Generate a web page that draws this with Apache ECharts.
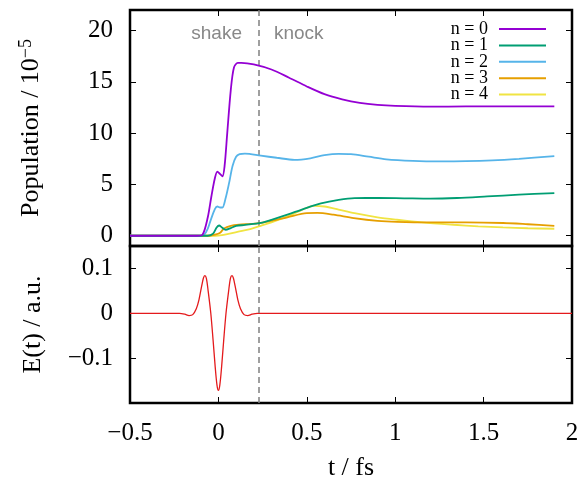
<!DOCTYPE html>
<html>
<head>
<meta charset="utf-8">
<script src="https://cdn.jsdelivr.net/npm/echarts@6/dist/echarts.min.js"></script>
<style>
  html, body { margin: 0; padding: 0; background: #fff; }
  #chart { width: 579px; height: 479px; }
</style>
</head>
<body>
<div id="chart"></div>
<script>
// population data, [t (fs), population / 1e-5]
const n0 = [[-0.5,0],[-0.12,0],[-0.09,0.1],[-0.06,1.8],[-0.04,3.8],[-0.02,5.6],[-0.006,6.25],[0.01,6.0],[0.023,5.8],[0.035,6.8],[0.05,10.0],[0.07,14.2],[0.088,16.4],[0.11,16.85],[0.13,16.85],[0.2,16.7],[0.3,16.2],[0.4,15.4],[0.5,14.55],[0.6,13.8],[0.7,13.3],[0.8,12.95],[0.9,12.75],[1.0,12.65],[1.2,12.58],[1.4,12.6],[1.6,12.6],[1.9,12.6]];
const n1 = [[-0.5,0],[-0.06,0],[-0.03,0.2],[-0.01,0.8],[0.004,1.0],[0.02,0.8],[0.041,0.58],[0.07,0.75],[0.1,0.95],[0.15,1.05],[0.24,1.25],[0.3,1.55],[0.39,2.05],[0.48,2.6],[0.58,3.15],[0.68,3.5],[0.77,3.67],[0.9,3.68],[1.05,3.65],[1.2,3.62],[1.35,3.68],[1.52,3.83],[1.7,4.0],[1.9,4.16]];
const n2 = [[-0.5,0],[-0.1,0],[-0.08,0.1],[-0.06,0.7],[-0.044,1.5],[-0.02,2.6],[-0.006,2.85],[0.01,2.75],[0.023,2.75],[0.04,3.6],[0.06,5.1],[0.08,6.8],[0.1,7.7],[0.12,7.95],[0.15,8.0],[0.24,7.8],[0.33,7.6],[0.43,7.4],[0.52,7.55],[0.6,7.85],[0.68,7.98],[0.75,7.95],[0.85,7.7],[0.95,7.45],[1.1,7.3],[1.25,7.25],[1.4,7.27],[1.55,7.35],[1.7,7.5],[1.9,7.75]];
const n3 = [[-0.5,0],[-0.05,0],[-0.02,0.1],[0.01,0.3],[0.032,0.7],[0.07,0.95],[0.117,1.07],[0.18,1.15],[0.24,1.25],[0.3,1.45],[0.39,1.8],[0.5,2.2],[0.56,2.22],[0.65,2.05],[0.766,1.72],[0.9,1.45],[1.01,1.35],[1.2,1.3],[1.4,1.3],[1.61,1.24],[1.75,1.12],[1.9,0.97]];
const n4 = [[-0.5,0],[-0.02,0],[0.02,0.05],[0.05,0.15],[0.09,0.3],[0.126,0.45],[0.18,0.65],[0.24,0.97],[0.3,1.3],[0.39,1.88],[0.47,2.5],[0.54,2.92],[0.6,2.85],[0.68,2.55],[0.77,2.2],[0.9,1.8],[1.01,1.56],[1.15,1.3],[1.33,1.07],[1.47,0.92],[1.61,0.81],[1.75,0.73],[1.9,0.68]];
// laser field, [t (fs), E (a.u.)]
const field = [[-0.5,0],[-0.22,0],[-0.19,-0.002],[-0.166,-0.005],[-0.145,-0.003],[-0.125,0.01],[-0.11,0.03],[-0.095,0.06],[-0.085,0.078],[-0.077,0.084],[-0.068,0.078],[-0.058,0.05],[-0.043,0],[-0.03,-0.06],[-0.018,-0.12],[-0.008,-0.16],[0,-0.172],[0.008,-0.16],[0.018,-0.12],[0.03,-0.06],[0.043,0],[0.058,0.05],[0.068,0.078],[0.077,0.084],[0.085,0.078],[0.095,0.06],[0.11,0.03],[0.125,0.01],[0.145,-0.003],[0.166,-0.005],[0.19,-0.002],[0.22,0],[2,0]];

const names = ['n = 0', 'n = 1', 'n = 2', 'n = 3', 'n = 4'];
const colors = ['#9400d3', '#009e73', '#56b4e9', '#e69f00', '#f0e442'];
const popTicks = [0, 5, 10, 15, 20];
const fieldTicks = [-0.1, 0, 0.1];
const tSplit = 0.235;   // dashed line between shake and knock

const serif = 'Liberation Serif';
const minus = v => String(v).replace('-', '\u2212');

function xAx(grid, pos, labels) {
    return {
        type: 'value', gridIndex: grid, position: pos,
        min: -0.5, max: 2, interval: 0.5,
        axisLine: {show: false, onZero: false},
        axisTick: {show: true, inside: true, length: 6, lineStyle: {color: '#000', width: 1}},
        axisLabel: {show: labels, color: '#000', fontFamily: serif, fontSize: 25, margin: 18, formatter: minus},
        splitLine: {show: false}
    };
}
function yAx(grid, pos, min, max, ticks, labels) {
    return {
        type: 'value', gridIndex: grid, position: pos, min: min, max: max,
        axisLine: {show: false, onZero: false},
        axisTick: {show: true, inside: true, length: 6, customValues: ticks, lineStyle: {color: '#000', width: 1}},
        axisLabel: {show: labels, customValues: ticks, color: '#000', fontFamily: serif, fontSize: 25, margin: 17, formatter: minus},
        splitLine: {show: false}
    };
}

const dashed = {
    silent: true, symbol: 'none', label: {show: false},
    lineStyle: {color: '#808080', type: [6, 4], width: 1.5},
    data: [{xAxis: tSplit}]
};

const popSeries = [n0, n1, n2, n3, n4].map((d, i) => ({
    name: names[i], type: 'line', xAxisIndex: 0, yAxisIndex: 0,
    data: d, smooth: 0.3, showSymbol: false, color: colors[i],
    lineStyle: {width: 1.8, color: colors[i]},
    z: 10 - i,
    markLine: i === 0 ? dashed : undefined
}));

const yPop = yAx(0, 'left', -1, 22, popTicks, true);
yPop.name = '{a|Population / 10}{s|\u22125}';
yPop.nameLocation = 'middle';
yPop.nameGap = 84;
yPop.nameTextStyle = {
    rich: {
        a: {fontFamily: serif, fontSize: 26, color: '#000'},
        s: {fontFamily: serif, fontSize: 18, color: '#000', padding: [0, 0, 11, 0]}
    }
};
const yField = yAx(1, 'left', -0.2, 0.15, fieldTicks, true);
yField.name = 'E(t) / a.u.';
yField.nameLocation = 'middle';
yField.nameGap = 84;
yField.nameTextStyle = {fontFamily: serif, fontSize: 26, color: '#000'};

const xBottom = xAx(1, 'bottom', true);
xBottom.name = 't / fs';
xBottom.nameLocation = 'middle';
xBottom.nameGap = 52;
xBottom.nameTextStyle = {fontFamily: serif, fontSize: 26, color: '#000'};

const option = {
    animation: false,
    backgroundColor: '#fff',
    grid: [
        {left: 130, right: 7, top: 10, height: 236, show: true, borderColor: '#000', borderWidth: 2.5, outerBoundsMode: 'none', containLabel: false},
        {left: 130, right: 7, top: 246, height: 157, show: true, borderColor: '#000', borderWidth: 2.5, outerBoundsMode: 'none', containLabel: false}
    ],
    legend: {
        data: names, orient: 'vertical', align: 'right',
        right: 28, top: 15, itemWidth: 47, itemHeight: 2, itemGap: -1.6,
        icon: 'rect',
        textStyle: {fontFamily: serif, fontSize: 18, color: '#000', lineHeight: 16, padding: [0, 6, 0, 0]}
    },
    xAxis: [xAx(0, 'bottom', false), xAx(0, 'top', false), xBottom, xAx(1, 'top', false)],
    yAxis: [yPop, yAx(0, 'right', -1, 22, popTicks, false), yField, yAx(1, 'right', -0.2, 0.15, fieldTicks, false)],
    series: popSeries.concat([{
        name: 'E', type: 'line', xAxisIndex: 2, yAxisIndex: 2,
        data: field, smooth: 0.3, showSymbol: false,
        lineStyle: {width: 1.3, color: '#e41a1c'},
        markLine: dashed
    }])
};

const chart = echarts.init(document.getElementById('chart'));
chart.setOption(option);

// region labels either side of the dashed line
const at = chart.convertToPixel({xAxisIndex: 0, yAxisIndex: 0}, [tSplit, 19.7]);
chart.setOption({
    graphic: [
        {type: 'text', x: at[0] - 18, y: at[1], style: {text: 'shake', fill: '#888', font: '19px "Liberation Sans"', align: 'right', verticalAlign: 'middle'}},
        {type: 'text', x: at[0] + 14, y: at[1], style: {text: 'knock', fill: '#888', font: '19px "Liberation Sans"', align: 'left', verticalAlign: 'middle'}}
    ]
});
</script>
</body>
</html>
